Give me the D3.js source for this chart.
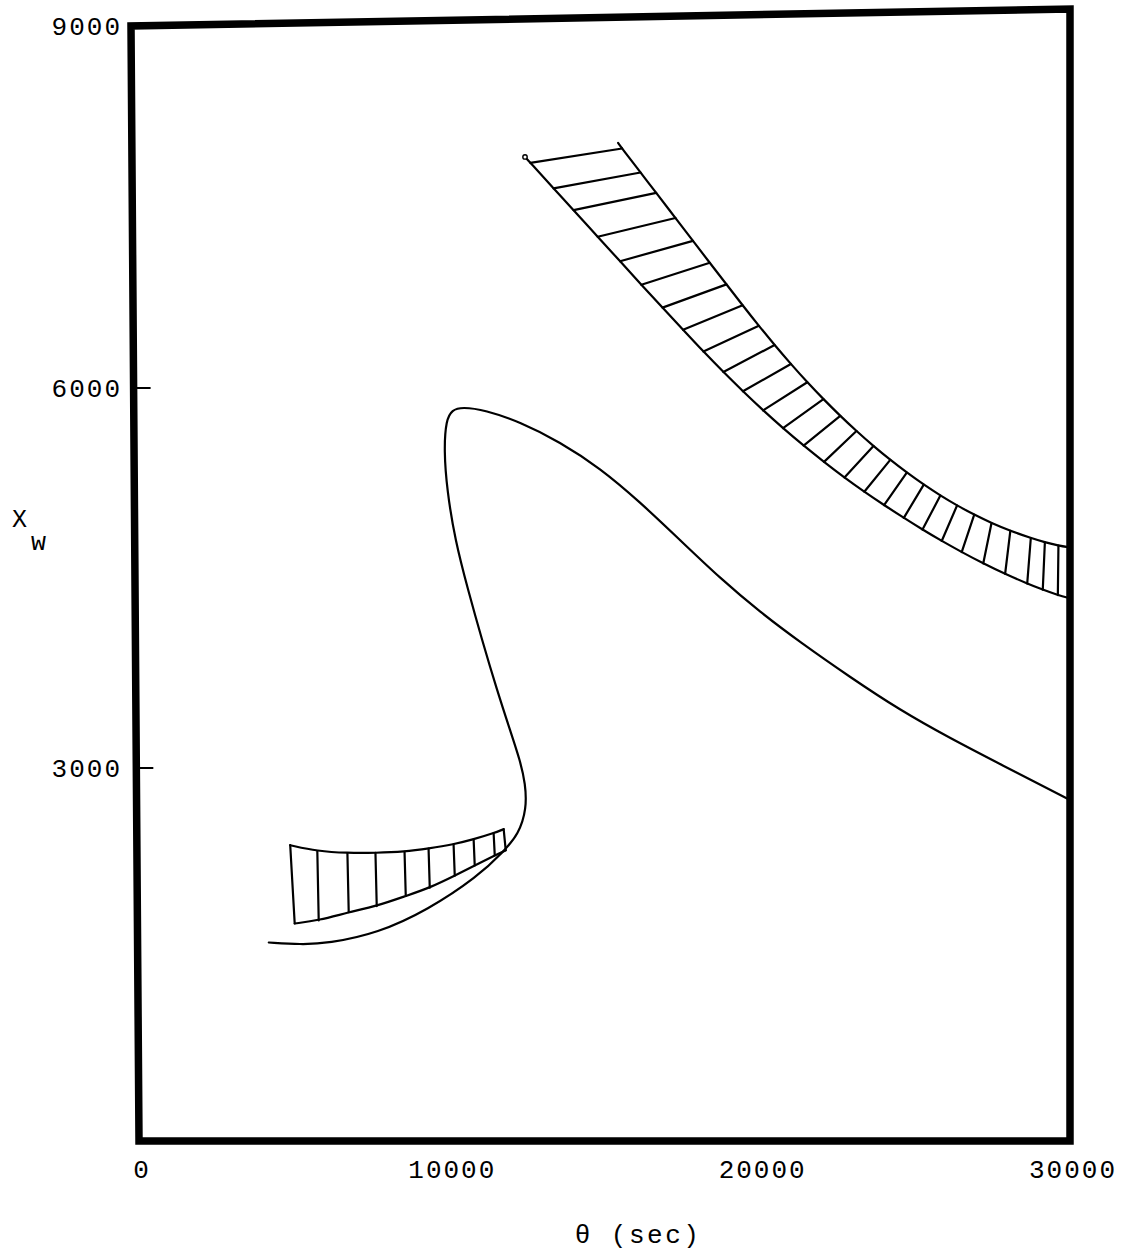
<!DOCTYPE html>
<html>
<head>
<meta charset="utf-8">
<script src="https://cdn.jsdelivr.net/npm/d3@7"></script>
<style>
  body { margin: 0; background: #fff; }
  svg { display: block; }
  text { font-family: "Liberation Mono", "DejaVu Sans Mono", monospace; fill: #000; }
</style>
</head>
<body>
<svg id="chart" width="1137" height="1255"></svg>
<script>
// Axis ranges and labels
const thetaDomain = [0, 30000];
const xwDomain = [0, 9000];
const xTickValues = [0, 10000, 20000, 30000];
const yLabelValues = [3000, 6000, 9000];
const yTickMarks = [3000, 6000];

// Trajectory X_w(θ): S-shaped curve
const trajectory = [
  [4221, 1593], [5252, 1576], [6122, 1584], [7733, 1665], [9344, 1850],
  [10955, 2115], [11793, 2316], [12276, 2453], [12534, 2654], [12501, 2855],
  [12328, 3044], [12012, 3280], [11600, 3594], [11126, 3988], [10685, 4382],
  [10275, 4776], [10024, 5169], [9934, 5483], [10005, 5719], [10198, 5797],
  [10517, 5819], [11255, 5794], [12373, 5696], [13652, 5536], [14931, 5328],
  [16210, 5059], [17489, 4758], [18768, 4457], [20051, 4189], [21330, 3952],
  [22934, 3676], [24539, 3415], [26144, 3194], [27748, 2990], [30000, 2701]
];

// Lower hatched band: upper and lower edges (hatch joins equal indexes)
const lowBandUpper = [
  [4930, 2373], [5800, 2324], [6767, 2308], [7669, 2308], [8604, 2316],
  [9377, 2341], [10182, 2373], [10827, 2413], [11471, 2461], [11794, 2493]
];
const lowBandLower = [
  [5059, 1745], [5832, 1769], [6799, 1834], [7701, 1882], [8636, 1962],
  [9409, 2027], [10215, 2123], [10859, 2204], [11504, 2284], [11858, 2324]
];

// Upper hatched band: inner and outer edges (hatch joins equal indexes, except the two ends)
const highBandInner = [
  [12570, 7863], [12741, 7814], [13479, 7601], [14117, 7419], [14887, 7197],
  [15599, 6993], [16279, 6797], [16953, 6607], [17610, 6423], [18258, 6242],
  [18896, 6072], [19521, 5916], [20165, 5765], [20803, 5624], [21461, 5486],
  [22115, 5357], [22769, 5233], [23404, 5121], [24038, 5015], [24670, 4914],
  [25269, 4821], [25885, 4731], [26526, 4643], [27216, 4553], [27918, 4469],
  [28627, 4393], [29126, 4344], [29610, 4301], [30000, 4275]
];
const highBandOuter = [
  [15548, 7966], [15676, 7920], [16263, 7720], [16762, 7551], [17375, 7342],
  [17932, 7152], [18470, 6970], [19002, 6791], [19518, 6617], [20036, 6447],
  [20539, 6288], [21058, 6131], [21583, 5980], [22099, 5847], [22637, 5715],
  [23156, 5595], [23700, 5476], [24238, 5367], [24767, 5267], [25311, 5171],
  [25843, 5085], [26378, 5006], [26929, 4933], [27483, 4867], [28086, 4805],
  [28743, 4747], [29194, 4713], [29629, 4686], [30000, 4671]
];

const svg = d3.select("#chart");

const xs = d3.scaleLinear().domain(thetaDomain).range([139, 1070]);
const ys = d3.scaleLinear().domain([0, 3000, 6000, 9000]).range([1141, 768, 388, 26]);

// The frame is drawn slightly skewed: the left side leans and the top edge tilts.
const skew = { left: 8, top: 17 };
function P(d) {
  const px = xs(d[0]), py = ys(d[1]);
  const u = (px - xs(thetaDomain[0])) / (xs(thetaDomain[1]) - xs(thetaDomain[0]));
  const v = (ys(xwDomain[0]) - py) / (ys(xwDomain[0]) - ys(xwDomain[1]));
  return [px - skew.left * v * (1 - u), py - skew.top * u * v];
}

const smooth = d3.line().curve(d3.curveBasis);
const straight = d3.line();

// Curves
const curves = svg.append("g")
  .attr("fill", "none").attr("stroke", "#000")
  .attr("stroke-width", 2.2).attr("stroke-linecap", "round").attr("stroke-linejoin", "round");

[trajectory, lowBandUpper, lowBandLower, highBandInner, highBandOuter].forEach(series => {
  curves.append("path").attr("d", smooth(series.map(P)));
});

// Hatching of the lower band
curves.selectAll("line.low")
  .data(d3.range(lowBandUpper.length))
  .join("line").attr("class", "low")
  .attr("x1", i => P(lowBandUpper[i])[0]).attr("y1", i => P(lowBandUpper[i])[1])
  .attr("x2", i => P(lowBandLower[i])[0]).attr("y2", i => P(lowBandLower[i])[1]);

// Hatching of the upper band
curves.selectAll("line.high")
  .data(d3.range(1, highBandInner.length - 1))
  .join("line").attr("class", "high")
  .attr("x1", i => P(highBandInner[i])[0]).attr("y1", i => P(highBandInner[i])[1])
  .attr("x2", i => P(highBandOuter[i])[0]).attr("y2", i => P(highBandOuter[i])[1]);

// Small pen loop at the start of the upper band
const tip = P(highBandInner[0]);
curves.append("circle").attr("cx", tip[0]).attr("cy", tip[1]).attr("r", 2.2)
  .attr("fill", "#fff").attr("stroke-width", 1.4);

// Frame
const corners = [[thetaDomain[0], xwDomain[0]], [thetaDomain[1], xwDomain[0]],
                 [thetaDomain[1], xwDomain[1]], [thetaDomain[0], xwDomain[1]]];
svg.append("path")
  .attr("d", straight(corners.map(P)) + "Z")
  .attr("fill", "none").attr("stroke", "#000")
  .attr("stroke-width", 7.5).attr("stroke-linejoin", "miter");

// Inward y tick marks
svg.append("g").attr("stroke", "#000").attr("stroke-width", 2)
  .selectAll("line").data(yTickMarks).join("line")
  .attr("x1", d => P([0, d])[0]).attr("y1", d => P([0, d])[1])
  .attr("x2", d => P([0, d])[0] + 17).attr("y2", d => P([0, d])[1]);

// Y tick labels
svg.append("g").selectAll("text").data(yLabelValues).join("text")
  .attr("x", 122).attr("y", d => P([0, d])[1] + 2)
  .attr("text-anchor", "end").attr("dominant-baseline", "central")
  .attr("font-size", 26).attr("letter-spacing", 2)
  .text(d => d);

// X tick labels
svg.append("g").selectAll("text").data(xTickValues).join("text")
  .attr("x", d => P([d, 0])[0] + 3).attr("y", 1178)
  .attr("text-anchor", "middle")
  .attr("font-size", 26).attr("letter-spacing", 2)
  .text(d => d);

// Axis titles
svg.append("text").attr("x", 638).attr("y", 1243).attr("text-anchor", "middle")
  .attr("font-size", 26).attr("letter-spacing", 2.5).text("θ (sec)");

const yTitle = svg.append("text").attr("font-size", 25);
yTitle.append("tspan").attr("x", 12).attr("y", 527).text("X");
yTitle.append("tspan").attr("x", 31).attr("y", 550).text("w");
</script>
</body>
</html>
